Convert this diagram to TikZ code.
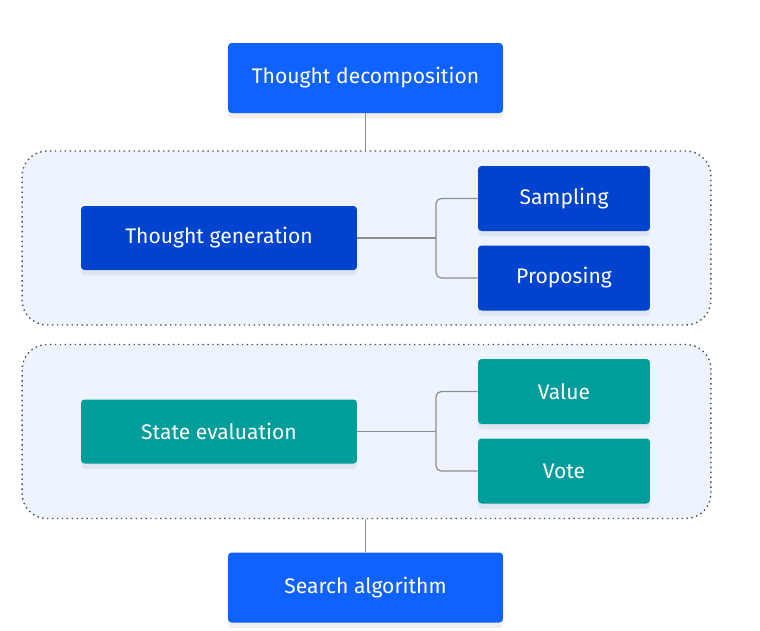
\documentclass[tikz,border=0pt]{standalone}
\usepackage{fontspec}
\setmainfont{Fira Sans}
\usepackage{tikz}
\usetikzlibrary{shapes}
\usetikzlibrary{positioning}
\usetikzlibrary{shadows}

\definecolor{ibmblue}{HTML}{0F62FE}
\definecolor{ibmdark}{HTML}{0043CE}
\definecolor{ibmteal}{HTML}{009D9A}
\definecolor{groupfill}{HTML}{EDF4FF}
\definecolor{linegray}{HTML}{8D8D8D}

\begin{document}
\begin{tikzpicture}[x=0.02cm,y=-0.02cm]
\tikzstyle{box}=[rounded corners=2pt,text=white,font=\fontsize{12}{14}\selectfont,inner sep=0pt,
  drop shadow={opacity=0.12,shadow xshift=0pt,shadow yshift=-3pt}]
\tikzstyle{bigbox}=[box,minimum width=5.5cm,minimum height=1.4cm,fill=ibmblue]
\tikzstyle{midbox}=[box,minimum width=5.52cm,minimum height=1.28cm]
\tikzstyle{smallbox}=[box,minimum width=3.44cm,minimum height=1.3cm]
\tikzstyle{group}=[draw=black!70,dotted,thick,fill=groupfill,rounded corners=0.5cm,minimum width=13.78cm,minimum height=3.48cm]
\tikzstyle{link}=[draw=linegray,line width=0.7pt]
\useasboundingbox (0,0) rectangle (760,630);
\fill[white] (0,0) rectangle (760,630);

\node[group] (gengroup) at (366.5,238) {};
\node[group] (evalgroup) at (366.5,431.5) {};

\node[bigbox] (decomp) at (365.5,78) {Thought decomposition};
\node[midbox,fill=ibmdark] (gen) at (219,238) {Thought generation};
\node[smallbox,fill=ibmdark] (samp) at (564,198.5) {Sampling};
\node[smallbox,fill=ibmdark] (prop) at (564,278) {Proposing};
\node[midbox,fill=ibmteal] (eval) at (219,431.5) {State evaluation};
\node[smallbox,fill=ibmteal] (value) at (564,391.5) {Value};
\node[smallbox,fill=ibmteal] (vote) at (564,471) {Vote};
\node[bigbox] (search) at (365.5,587.5) {Search algorithm};

% connectors
\coordinate (genfork) at (436,238);
\coordinate (evalfork) at (436,431.5);
\draw[link] (decomp.south) -- (decomp.south |- gengroup.north);
\draw[link] (search.north) -- (search.north |- evalgroup.south);
\draw[link] (gen.east) -- (genfork);
\draw[link,rounded corners=3pt] (samp.west) -| (genfork) |- (prop.west);
\draw[link] (eval.east) -- (evalfork);
\draw[link,rounded corners=3pt] (value.west) -| (evalfork) |- (vote.west);
\end{tikzpicture}
\end{document}
